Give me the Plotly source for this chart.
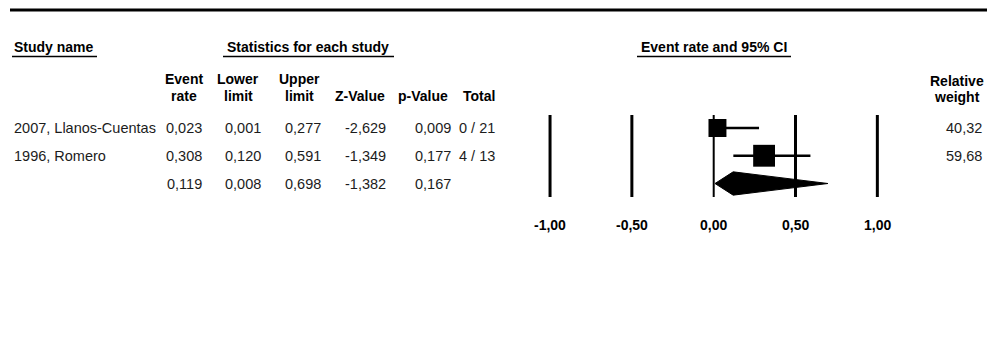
import plotly.graph_objects as go

# Study-level results (event rates with 95% CI)
studies = ["2007, Llanos-Cuentas", "1996, Romero"]
event_rate = [0.023, 0.308]
lower_limit = [0.001, 0.120]
upper_limit = [0.277, 0.591]
z_value = [-2.629, -1.349]
p_value = [0.009, 0.177]
totals = ["0 / 21", "4 / 13"]
rel_weight = [40.32, 59.68]

# Pooled estimate
pooled_rate = 0.119
pooled_lower = 0.008
pooled_upper = 0.698
pooled_z = -1.382
pooled_p = 0.167

# Axis of the forest panel
axis_ticks = [-1.0, -0.5, 0.0, 0.5, 1.0]

W, H = 987, 364
ROW0_PX, ROW_STEP = 128.0, 27.75
X_RANGE = [-4.361, 1.670]
Y_RANGE = [(H - ROW0_PX) / ROW_STEP, -ROW0_PX / ROW_STEP]


def fmt(v, nd=3):
    return f"{v:.{nd}f}".replace(".", ",")


def px_x(p):
    return p / W


def px_y(p):
    return 1 - p / H


def row_of_px(p):
    return (p - ROW0_PX) / ROW_STEP


FONT = "Liberation Sans, Arial, sans-serif"
REG = dict(family=FONT, size=14.5, color="#1c1c1c")
BOLD = dict(family=FONT, size=14, color="#000000")

fig = go.Figure()

# Confidence interval whiskers
for i in range(len(studies)):
    fig.add_trace(go.Scatter(
        x=[lower_limit[i], upper_limit[i]], y=[i, i], mode="lines",
        line=dict(color="black", width=2.5), hoverinfo="skip", showlegend=False))

# Point estimates, square area proportional to weight
fig.add_trace(go.Scatter(
    x=event_rate, y=list(range(len(studies))), mode="markers",
    marker=dict(symbol="square", color="black", opacity=1,
                size=[2.83 * w ** 0.5 for w in rel_weight], line=dict(width=0)),
    hoverinfo="skip", showlegend=False))

# Pooled diamond
pr = len(studies)
h = 0.42
fig.add_trace(go.Scatter(
    x=[pooled_lower, pooled_rate, pooled_upper, pooled_rate, pooled_lower],
    y=[pr, pr - h, pr, pr + h, pr], mode="lines", fill="toself",
    fillcolor="black", line=dict(color="black", width=1),
    hoverinfo="skip", showlegend=False))

shapes = []
# Reference verticals at each tick
for t in axis_ticks:
    shapes.append(dict(type="line", xref="x", yref="y", x0=t, x1=t,
                       y0=row_of_px(115), y1=row_of_px(197),
                       line=dict(color="black", width=2 if t == 0 else 3), layer="below"))

# Top rule
shapes.append(dict(type="line", xref="paper", yref="paper", x0=px_x(10), x1=1,
                   y0=px_y(10), y1=px_y(10), line=dict(color="black", width=3)))

# Header underlines
for a, b in [(12, 97), (223, 394), (637, 791)]:
    shapes.append(dict(type="line", xref="paper", yref="paper", x0=px_x(a), x1=px_x(b),
                       y0=px_y(56.5), y1=px_y(56.5), line=dict(color="black", width=1.3)))

ann = []


def txt(text, x, y, xa="center", font=REG, yref="paper", xref="paper"):
    ann.append(dict(text=text, x=x, y=y, xref=xref, yref=yref, xanchor=xa,
                    yanchor="middle", showarrow=False, font=font))


# Group headers
txt("<b>Study name</b>", px_x(12), px_y(46.5), xa="left", font=BOLD)
txt("<b>Statistics for each study</b>", px_x(308), px_y(46.5), font=BOLD)
txt("<b>Event rate and 95% CI</b>", px_x(714), px_y(46.5), font=BOLD)

# Column headers
col_heads = [("Event", "rate", 184), ("Lower", "limit", 238), ("Upper", "limit", 299)]
for l1, l2, cx in col_heads:
    txt(f"<b>{l1}</b>", px_x(cx), px_y(79), font=BOLD)
    txt(f"<b>{l2}</b>", px_x(cx), px_y(96), font=BOLD)
txt("<b>Z-Value</b>", px_x(360), px_y(96), font=BOLD)
txt("<b>p-Value</b>", px_x(423), px_y(96), font=BOLD)
txt("<b>Total</b>", px_x(479), px_y(96), font=BOLD)
txt("<b>Relative</b>", px_x(957), px_y(81), font=BOLD)
txt("<b>weight</b>", px_x(957), px_y(97), font=BOLD)

# Table body
col_right = [204, 263, 323, 388, 453]
for i, name in enumerate(studies):
    txt(name, px_x(12), i, xa="left", yref="y")
    vals = [event_rate[i], lower_limit[i], upper_limit[i], z_value[i], p_value[i]]
    for v, rx in zip(vals, col_right):
        txt(fmt(v), px_x(rx), i, xa="right", yref="y")
    txt(totals[i], px_x(457), i, xa="left", yref="y")
    txt(fmt(rel_weight[i], 2), px_x(984), i, xa="right", yref="y")

pooled_vals = [pooled_rate, pooled_lower, pooled_upper, pooled_z, pooled_p]
for v, rx in zip(pooled_vals, col_right):
    txt(fmt(v), px_x(rx), pr, xa="right", yref="y")

# Forest axis labels
for t in axis_ticks:
    txt(f"<b>{fmt(t, 2)}</b>", t, row_of_px(225), xref="x", yref="y", font=BOLD)

fig.update_layout(
    width=W, height=H, autosize=False,
    margin=dict(l=0, r=0, t=0, b=0, pad=0),
    paper_bgcolor="white", plot_bgcolor="white",
    xaxis=dict(range=X_RANGE, visible=False, fixedrange=True),
    yaxis=dict(range=Y_RANGE, visible=False, fixedrange=True),
    shapes=shapes, annotations=ann, showlegend=False,
)

fig.write_html("out.html", config={"displayModeBar": False})
